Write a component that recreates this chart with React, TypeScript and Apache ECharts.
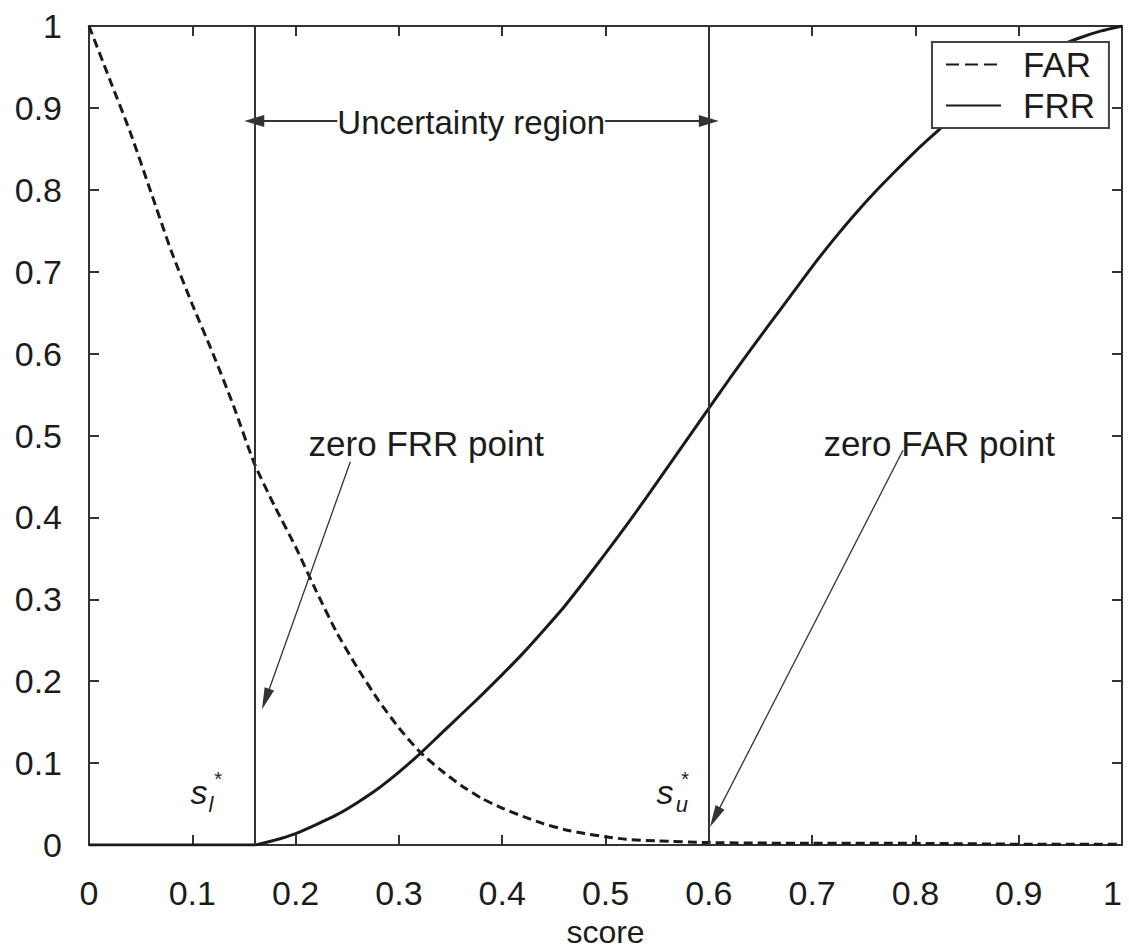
import React, { useEffect, useRef } from "react";
import * as echarts from "echarts";

const FONT = "'Liberation Sans', Arial, Helvetica, sans-serif";
const TXT = "#1c1c1c";
const AX = "#333333";

// FAR curve (dashed)
const farScores = [0, 0.02, 0.04, 0.06, 0.08, 0.1, 0.12, 0.14, 0.16, 0.18, 0.2, 0.22, 0.24, 0.26, 0.28, 0.3, 0.32, 0.34, 0.36, 0.38, 0.4, 0.42, 0.44, 0.46, 0.48, 0.5, 0.52, 0.55, 0.6, 0.7, 0.8, 0.9, 1.0];
const farValues = [1.0, 0.935, 0.87, 0.797, 0.724, 0.66, 0.6, 0.536, 0.466, 0.413, 0.364, 0.31, 0.259, 0.216, 0.177, 0.143, 0.114, 0.092, 0.073, 0.057, 0.045, 0.035, 0.026, 0.019, 0.014, 0.01, 0.007, 0.005, 0.003, 0.002, 0.002, 0.001, 0.001];

// FRR curve (solid)
const frrScores = [0, 0.16, 0.18, 0.2, 0.22, 0.24, 0.26, 0.28, 0.3, 0.32, 0.34, 0.36, 0.38, 0.4, 0.42, 0.44, 0.46, 0.48, 0.5, 0.52, 0.54, 0.56, 0.58, 0.6, 0.62, 0.64, 0.66, 0.68, 0.7, 0.72, 0.74, 0.76, 0.78, 0.8, 0.82, 0.84, 0.86, 0.88, 0.9, 0.92, 0.94, 0.96, 0.98, 1.0];
const frrValues = [0, 0, 0.006, 0.014, 0.025, 0.037, 0.052, 0.069, 0.089, 0.111, 0.135, 0.159, 0.183, 0.208, 0.234, 0.262, 0.291, 0.323, 0.356, 0.39, 0.425, 0.461, 0.497, 0.533, 0.569, 0.604, 0.638, 0.672, 0.706, 0.738, 0.768, 0.796, 0.822, 0.847, 0.87, 0.892, 0.912, 0.931, 0.948, 0.963, 0.976, 0.986, 0.994, 1.0];

// thresholds
const sLower = 0.16;
const sUpper = 0.6;

// annotation arrows (data coords): [from, to]
const regionY = 0.884;
const regionArrows = [
  [[0.241, regionY], [sLower, regionY]],
  [[0.4995, regionY], [sUpper, regionY]],
];
const pointerArrows = [
  [[0.253, 0.468], [0.171, 0.178]],
  [[0.788, 0.482], [0.606, 0.034]],
];

// annotation texts (data coords)
const textNotes = [
  { text: "Uncertainty region", at: [0.37, 0.882], size: 33 },
  { text: "zero FRR point", at: [0.3265, 0.49], size: 35 },
  { text: "zero FAR point", at: [0.823, 0.49], size: 35 },
];
const symbolNotes = [
  { text: "s", at: [0.1065, 0.0647], size: 34, lh: 22 },
  { text: "l", at: [0.118, 0.05], size: 22, lh: 16 },
  { text: "*", at: [0.125, 0.08], size: 20, lh: 12 },
  { text: "s", at: [0.5576, 0.0647], size: 34, lh: 22 },
  { text: "u", at: [0.574, 0.05], size: 22, lh: 16 },
  { text: "*", at: [0.577, 0.08], size: 20, lh: 12 },
];

const xTicks = { min: 0, max: 1, interval: 0.1 };
const yTicks = { min: 0, max: 1, interval: 0.1 };

function pairs(xs: number[], ys: number[]) {
  return xs.map((x, i) => [x, ys[i]]);
}

export default function App() {
  const ref = useRef<HTMLDivElement>(null);
  useEffect(() => {
    if (!ref.current) return;
    const chart = echarts.init(ref.current, undefined, { renderer: "svg" });

    const axisLine = { show: true, onZero: false, lineStyle: { color: AX, width: 2 } };
    const axisTick = { show: true, inside: true, length: 10, lineStyle: { color: AX, width: 2 } };

    const arrowLine = (seg: number[][], width: number, size: number[]) => [
      { coord: seg[0], symbol: "none" },
      { coord: seg[1], symbol: "triangle", symbolSize: size, lineStyle: { width, color: AX, type: "solid" } },
    ];

    const option: any = {
      animation: false,
      backgroundColor: "#ffffff",
      textStyle: { fontFamily: FONT },
      grid: { left: 89, top: 26, right: 7, bottom: 107, containLabel: false, outerBoundsMode: "none" },
      legend: {
        data: [
          { name: "FAR", lineStyle: { type: [13, 6] }, itemStyle: { opacity: 0 } },
          { name: "FRR", itemStyle: { opacity: 0 } },
        ],
        orient: "vertical",
        left: 932,
        top: 42,
        padding: [5, 14, 5, 13],
        itemGap: 6,
        itemWidth: 55,
        itemHeight: 20,
        backgroundColor: "#ffffff",
        borderColor: "#444",
        borderWidth: 2,
        borderRadius: 0,
        selectedMode: false,
        textStyle: { fontSize: 35, color: TXT, fontFamily: FONT, padding: [0, 0, 0, 17] },
      },
      xAxis: [
        {
          type: "value", ...xTicks, position: "bottom",
          name: "score", nameLocation: "middle", nameGap: 71,
          nameTextStyle: { fontSize: 32, lineHeight: 32, color: TXT, fontFamily: FONT },
          axisLine, axisTick,
          axisLabel: { fontSize: 34, color: TXT, margin: 31, fontFamily: FONT, alignMaxLabel: "right" },
          splitLine: { show: false },
        },
        {
          type: "value", ...xTicks, position: "top",
          axisLine, axisTick, axisLabel: { show: false }, splitLine: { show: false },
        },
      ],
      yAxis: [
        {
          type: "value", ...yTicks, position: "left",
          axisLine, axisTick,
          axisLabel: { fontSize: 34, color: TXT, margin: 27, fontFamily: FONT },
          splitLine: { show: false },
        },
        {
          type: "value", ...yTicks, position: "right",
          axisLine, axisTick, axisLabel: { show: false }, splitLine: { show: false },
        },
      ],
      series: [
        {
          name: "FAR", type: "line", data: pairs(farScores, farValues),
          symbol: "none", color: "#1a1a1a", smooth: 0.2,
          lineStyle: { color: "#1a1a1a", width: 3, type: [9, 5] },
          z: 3,
        },
        {
          name: "FRR", type: "line", data: pairs(frrScores, frrValues),
          symbol: "none", color: "#1a1a1a", smooth: 0.2,
          lineStyle: { color: "#1a1a1a", width: 3, type: "solid" },
          z: 3,
          markLine: {
            silent: true,
            symbol: ["none", "none"],
            label: { show: false },
            lineStyle: { color: AX, width: 2, type: "solid" },
            emphasis: { disabled: true },
            data: [
              { xAxis: sLower },
              { xAxis: sUpper },
              ...regionArrows.map((s) => arrowLine(s, 2, [12, 20])),
              ...pointerArrows.map((s) => arrowLine(s, 1.3, [10, 22])),
            ],
          },
        },
      ],
    };
    chart.setOption(option);

    const toPx = (p: number[]) => chart.convertToPixel({ gridIndex: 0 } as any, p) as number[];
    const graphics: any[] = [];
    textNotes.forEach((n) => {
      const [x, y] = toPx(n.at);
      graphics.push({
        type: "text", x, y, z: 10,
        style: { text: n.text, fontSize: n.size, fontFamily: FONT, fill: TXT, align: "center", verticalAlign: "middle", backgroundColor: n.text === "Uncertainty region" ? "#fff" : undefined },
      });
    });
    symbolNotes.forEach((n) => {
      const [x, y] = toPx(n.at);
      graphics.push({
        type: "text", x, y, z: 10,
        style: { text: n.text, fontSize: n.size, lineHeight: n.lh, fontStyle: n.text === "*" ? "normal" : "italic", fontFamily: FONT, fill: TXT, align: "center", verticalAlign: "middle" },
      });
    });
    chart.setOption({ graphic: graphics });

    return () => chart.dispose();
  }, []);
  return <div ref={ref} style={{ position: "absolute", left: 0, top: 0, width: 1129, height: 952 }} />;
}
